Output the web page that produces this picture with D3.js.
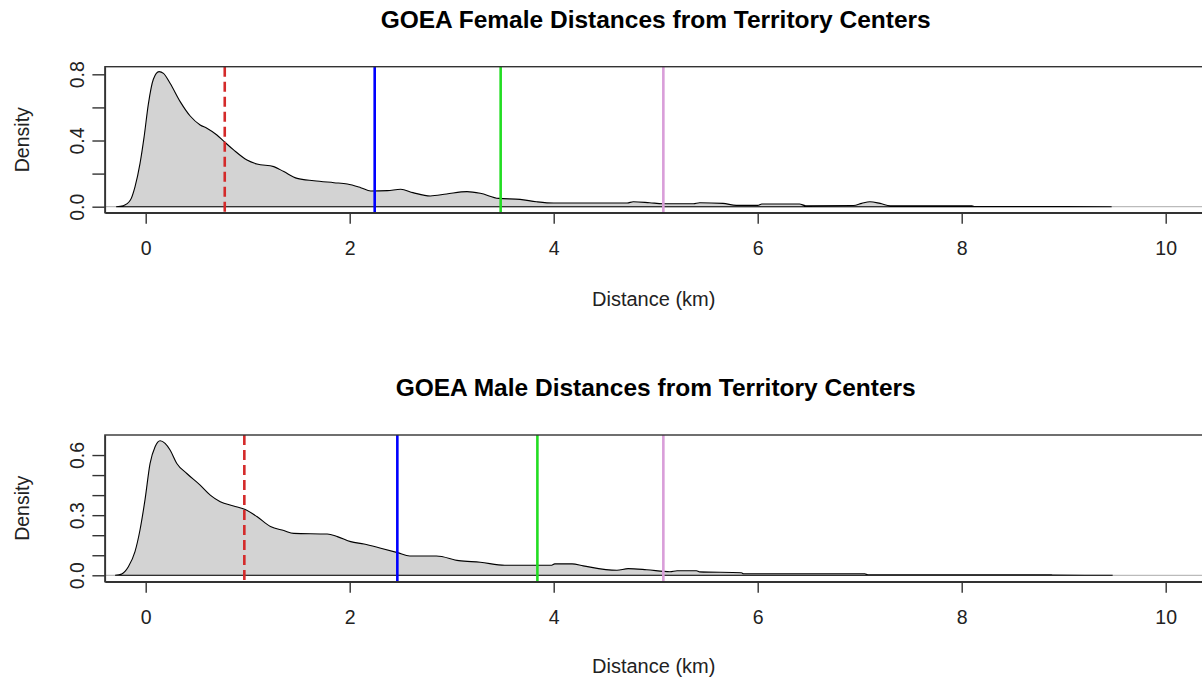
<!DOCTYPE html>
<html>
<head>
<meta charset="utf-8">
<script src="https://cdn.jsdelivr.net/npm/d3@7"></script>
<style>
  body { margin: 0; background: #fff; }
  svg { display: block; font-family: "Liberation Sans", Arial, sans-serif; }
</style>
</head>
<body>
<svg id="chart" width="1202" height="684"></svg>
<script>
// density curves (distance km, density)
const femaleX = [-0.29, -0.22, -0.15, -0.105, -0.056, -0.016, 0.026, 0.075, 0.131, 0.174, 0.239, 0.338, 0.436, 0.534, 0.6, 0.698, 0.77, 0.862, 0.993, 1.09, 1.256, 1.354, 1.485, 1.649, 1.846, 1.977, 2.108, 2.207, 2.37, 2.5, 2.62, 2.79, 2.95, 3.15, 3.28, 3.46, 3.67, 3.83, 4.0, 4.72, 4.78, 4.94, 5.07, 5.37, 5.43, 5.66, 5.79, 6.0, 6.04, 6.41, 6.47, 6.94, 7.02, 7.1, 7.2, 7.3, 8.1, 8.13, 9.47];
const femaleDensity = [0, 0.006, 0.04, 0.12, 0.26, 0.42, 0.62, 0.77, 0.816, 0.806, 0.746, 0.635, 0.548, 0.494, 0.474, 0.433, 0.393, 0.343, 0.282, 0.258, 0.242, 0.212, 0.171, 0.157, 0.145, 0.137, 0.115, 0.095, 0.097, 0.105, 0.085, 0.065, 0.077, 0.091, 0.081, 0.05, 0.044, 0.03, 0.022, 0.022, 0.03, 0.024, 0.018, 0.018, 0.024, 0.02, 0.008, 0.008, 0.016, 0.016, 0.006, 0.007, 0.02, 0.03, 0.02, 0.006, 0.005, 0.0015, 0];

const maleX = [-0.30, -0.236, -0.17, -0.105, -0.056, -0.007, 0.043, 0.092, 0.141, 0.19, 0.239, 0.305, 0.403, 0.534, 0.633, 0.731, 0.862, 0.97, 1.09, 1.223, 1.354, 1.452, 1.78, 1.879, 2.01, 2.14, 2.305, 2.469, 2.59, 2.85, 3.07, 3.28, 3.52, 3.98, 4.01, 4.18, 4.29, 4.62, 4.73, 4.91, 5.14, 5.21, 5.40, 5.43, 5.84, 5.86, 6.41, 7.05, 7.08, 8.88, 8.9, 9.48];
const maleDensity = [0, 0.007, 0.043, 0.118, 0.226, 0.376, 0.558, 0.641, 0.671, 0.658, 0.625, 0.558, 0.508, 0.45, 0.4, 0.367, 0.346, 0.329, 0.293, 0.243, 0.223, 0.209, 0.206, 0.193, 0.168, 0.156, 0.135, 0.113, 0.096, 0.096, 0.073, 0.065, 0.05, 0.05, 0.057, 0.057, 0.047, 0.025, 0.033, 0.028, 0.018, 0.023, 0.023, 0.017, 0.013, 0.008, 0.008, 0.008, 0.003, 0.002, 0.0007, 0];

// reference lines (km)
const femaleLines = [0.775, 2.245, 3.48, 5.075];
const maleLines = [0.967, 2.467, 3.84, 5.075];
const lineColors = ["#d42a2a", "#0000ff", "#22dd22", "#d99ed9"];
const lineDash = ["10,5", null, null, null];

const xTicks = [0, 2, 4, 6, 8, 10];
const femaleYTicks = [0, 0.2, 0.4, 0.6, 0.8];
const femaleYLabels = [0, 0.4, 0.8];
const maleYTicks = [0, 0.1, 0.2, 0.3, 0.4, 0.5, 0.6];
const maleYLabels = [0, 0.3, 0.6];

const titles = ["GOEA Female Distances from Territory Centers", "GOEA Male Distances from Territory Centers"];

const svg = d3.select("#chart");
const boxLeft = 104.9, boxRight = 1206.5;

const x = d3.scaleLinear().domain([-0.4, 10.4]).range([boxLeft, boxRight]);

function drawPanel(opt) {
    const y = d3.scaleLinear().domain(opt.yDomain).range([opt.bottom, opt.top]);
    const g = svg.append("g");

    // title
    g.append("text")
        .attr("x", (boxLeft + boxRight) / 2)
        .attr("y", opt.titleY)
        .attr("text-anchor", "middle")
        .attr("font-size", 24.5)
        .attr("font-weight", "bold")
        .text(opt.title);

    // zero line
    g.append("line")
        .attr("x1", boxLeft).attr("x2", boxRight)
        .attr("y1", y(0)).attr("y2", y(0))
        .attr("stroke", "#bbb").attr("stroke-width", 1.3);

    // density polygon
    const pts = opt.xs.map((v, i) => [v, opt.ds[i]]);
    const area = d3.area()
        .x(d => x(d[0]))
        .y0(y(0))
        .y1(d => y(d[1]))
        .curve(d3.curveMonotoneX);
    g.append("path")
        .attr("d", area(pts))
        .attr("fill", "#d3d3d3")
        .attr("stroke", "#000")
        .attr("stroke-width", 1.1);

    // vertical lines
    opt.lines.forEach((v, i) => {
        g.append("line")
            .attr("x1", x(v)).attr("x2", x(v))
            .attr("y1", opt.top).attr("y2", opt.bottom)
            .attr("stroke", lineColors[i])
            .attr("stroke-width", 2.6)
            .attr("stroke-dasharray", lineDash[i]);
    });

    // box
    g.append("rect")
        .attr("x", boxLeft).attr("y", opt.top)
        .attr("width", boxRight - boxLeft).attr("height", opt.bottom - opt.top)
        .attr("fill", "none").attr("stroke", "#333").attr("stroke-width", 1.4);

    // x axis
    const xa = g.append("g")
        .attr("transform", `translate(0,${opt.bottom})`)
        .call(d3.axisBottom(x).tickValues(xTicks).tickSizeInner(11).tickSizeOuter(0)
            .tickPadding(17).tickFormat(d3.format("d")));
    xa.select(".domain").attr("stroke", "#333").attr("stroke-width", 1.4);
    xa.selectAll(".tick line").attr("stroke", "#333").attr("stroke-width", 1.4);
    xa.selectAll("text").attr("font-size", 19.5).attr("fill", "#222")
        .attr("font-family", "Liberation Sans, Arial, sans-serif");

    // y axis
    const ya = g.append("g")
        .attr("transform", `translate(${boxLeft},0)`)
        .call(d3.axisLeft(y).tickValues(opt.yTicks).tickSizeInner(12.5).tickSizeOuter(0)
            .tickFormat(d => opt.yLabels.some(l => Math.abs(l - d) < 1e-9) ? d3.format(".1f")(d) : ""));
    ya.select(".domain").attr("stroke", "#333").attr("stroke-width", 1.4);
    ya.selectAll(".tick line").attr("stroke", "#333").attr("stroke-width", 1.4);
    ya.selectAll("text")
        .attr("font-size", 19.5).attr("fill", "#222")
        .attr("font-family", "Liberation Sans, Arial, sans-serif")
        .attr("x", null).attr("dy", null)
        .attr("text-anchor", "middle")
        .attr("transform", "translate(-28,0) rotate(-90)")
        .attr("y", 7);

    // axis titles
    g.append("text")
        .attr("x", (boxLeft + boxRight) / 2 - 2)
        .attr("y", opt.xLabelY)
        .attr("text-anchor", "middle")
        .attr("font-size", 20).attr("fill", "#222")
        .text("Distance (km)");
    g.append("text")
        .attr("transform", `translate(29,${(opt.top + opt.bottom) / 2}) rotate(-90)`)
        .attr("text-anchor", "middle")
        .attr("font-size", 19.5).attr("fill", "#222")
        .text("Density");
}

drawPanel({
    title: titles[0], titleY: 28, top: 66.7, bottom: 212.7,
    yDomain: [-0.0363, 0.846], xs: femaleX, ds: femaleDensity,
    lines: femaleLines, yTicks: femaleYTicks, yLabels: femaleYLabels, xLabelY: 306
});
drawPanel({
    title: titles[1], titleY: 396, top: 435, bottom: 581.7,
    yDomain: [-0.032, 0.70], xs: maleX, ds: maleDensity,
    lines: maleLines, yTicks: maleYTicks, yLabels: maleYLabels, xLabelY: 673
});
</script>
</body>
</html>
